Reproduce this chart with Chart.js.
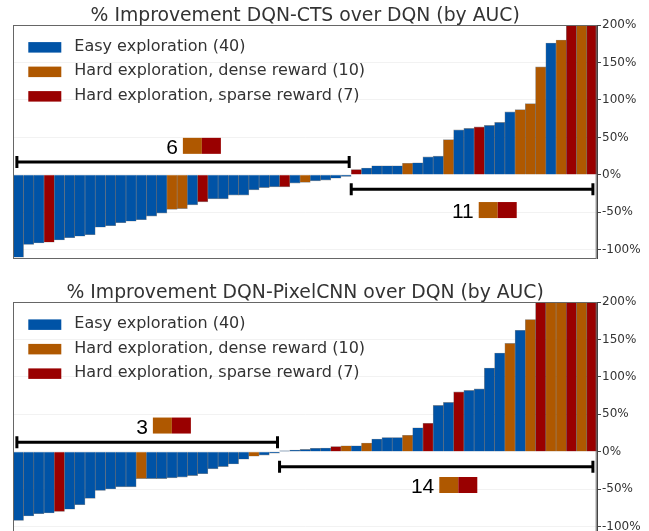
<!DOCTYPE html>
<html>
<head>
<meta charset="utf-8">
<script src="https://cdn.jsdelivr.net/npm/chart.js@4/dist/chart.umd.min.js"></script>
<style>
  html, body { margin: 0; padding: 0; background: #fff; overflow: hidden; }
  #wrap { position: relative; width: 649px; height: 531px; overflow: hidden; }
  #top_chart { position: absolute; left: 0; top: 0; }
  #bottom_chart { position: absolute; left: 0; top: 268px; }
</style>
</head>
<body>
<div id="wrap">
  <canvas id="top_chart" width="649" height="268"></canvas>
  <canvas id="bottom_chart" width="649" height="274"></canvas>
</div>
<script>
// game groups (E = easy, D = hard/dense, S = hard/sparse)
const groupKeys = ['E', 'D', 'S'];
const groupNames = ['Easy exploration', 'Hard exploration, dense reward', 'Hard exploration, sparse reward'];
const groupColors = ['#0053a6', '#af5800', '#990000'];

const tickValues = [-100, -50, 0, 50, 100, 150, 200];

// DQN-CTS, sorted
const ctsTitle = '% Improvement DQN-CTS over DQN (by AUC)';
const ctsValues = [
  -110, -93, -91, -90, -87, -84, -82, -80, -70, -68,
  -64, -62, -60, -55, -51, -46, -45, -40, -36, -32,
  -32, -27, -27, -20, -17, -16, -16, -11, -10, -8,
  -7, -4.5, -2, 7, 9, 12, 12, 12, 15.5, 16,
  24, 25, 47, 60, 62, 64, 66, 70, 84, 87,
  95, 144, 176, 180, 200, 200, 200
];
const ctsGroups = [
  'E', 'E', 'E', 'S', 'E', 'E', 'E', 'E', 'E', 'E',
  'E', 'E', 'E', 'E', 'E', 'D', 'D', 'E', 'S', 'E',
  'E', 'E', 'E', 'E', 'E', 'E', 'S', 'E', 'D', 'E',
  'E', 'E', 'E', 'S', 'E', 'E', 'E', 'E', 'D', 'E',
  'E', 'E', 'D', 'E', 'E', 'S', 'E', 'E', 'E', 'D',
  'D', 'D', 'E', 'D', 'S', 'D', 'S'
];

// DQN-PixelCNN, sorted
const pixelTitle = '% Improvement DQN-PixelCNN over DQN (by AUC)';
const pixelValues = [
  -92, -86, -83, -82, -80, -77, -71, -62.5, -52, -50,
  -47, -47, -36, -36, -36, -35, -34, -32, -29.5, -23,
  -20, -16.5, -10, -6, -4.5, -2, 1, 2, 3, 4.5,
  5, 7, 8, 8, 11.6, 17, 19, 19, 22, 32,
  38, 62, 66, 80, 82, 84, 112, 132, 145, 162.5,
  177, 200, 200, 200, 200, 200, 200
];
const pixelGroups = [
  'E', 'E', 'E', 'E', 'S', 'E', 'E', 'E', 'E', 'E',
  'E', 'E', 'D', 'E', 'E', 'E', 'E', 'E', 'E', 'E',
  'E', 'E', 'E', 'D', 'E', 'E', 'E', 'E', 'E', 'E',
  'E', 'S', 'D', 'E', 'D', 'E', 'E', 'E', 'D', 'E',
  'S', 'E', 'E', 'S', 'E', 'E', 'E', 'E', 'D', 'E',
  'D', 'S', 'D', 'D', 'S', 'D', 'S'
];

var colorOf = function (g) {
  return groupColors[groupKeys.indexOf(g)];
};

// frame, legend, title, brackets
var panelPlugin = {
  id: 'panel',
  afterDatasetsDraw: function (chart) {
    var ctx = chart.ctx;
    var a = chart.chartArea;
    var opt = chart.options.plugins.panel;
    var xs = chart.scales.x;
    var ys = chart.scales.y;
    var groups = opt.groups;
    var values = chart.data.datasets[0].data;
    var step = xs.getPixelForValue(1) - xs.getPixelForValue(0);
    var x0px = xs.getPixelForValue(0);

    ctx.save();
    // frame
    ctx.strokeStyle = '#666';
    ctx.lineWidth = 1;
    ctx.strokeRect(Math.round(a.left) + 0.5, Math.round(a.top) + 0.5, a.right - a.left - 1, a.bottom - a.top);

    // title
    ctx.fillStyle = '#333';
    ctx.font = '18.8px "DejaVu Sans"';
    ctx.textAlign = 'center';
    ctx.textBaseline = 'alphabetic';
    ctx.fillText(opt.title, (a.left + a.right) / 2, a.top - 4.3);

    // legend
    ctx.font = '16px "DejaVu Sans"';
    ctx.textAlign = 'left';
    ctx.textBaseline = 'middle';
    for (let i = 0; i < groupKeys.length; i++) {
      let cy = a.top + 22.3 + i * 24.5;
      let n = groups.filter(g => g === groupKeys[i]).length;
      ctx.fillStyle = groupColors[i];
      ctx.fillRect(a.left + 15, cy - 5.2, 33, 10.5);
      ctx.fillStyle = '#333';
      ctx.fillText(groupNames[i] + ' (' + n + ')', a.left + 61, cy - 0.5);
    }

    // brackets for negative / positive
    let nNeg = values.filter(v => v < 0).length;
    let hardNeg = 0, hardPos = 0;
    for (let i = 0; i < values.length; i++) {
      if (groups[i] === 'E') continue;
      if (values[i] < 0) hardNeg++; else hardPos++;
    }
    var bracket = function (i0, i1, yv) {
      let x0 = x0px + i0 * step;
      let x1 = x0px + i1 * step;
      let y = ys.getPixelForValue(yv);
      ctx.strokeStyle = '#000';
      ctx.lineWidth = 3;
      ctx.beginPath();
      ctx.moveTo(x0, y); ctx.lineTo(x1, y);
      ctx.moveTo(x0, y - 6); ctx.lineTo(x0, y + 6);
      ctx.moveTo(x1, y - 6); ctx.lineTo(x1, y + 6);
      ctx.stroke();
    };
    bracket(-0.15, nNeg - 1 + 0.3, opt.leftBracketY);
    bracket(nNeg - 0.5, values.length - 1 + 0.1, opt.rightBracketY);

    var countLabel = function (pos, count) {
      let x = x0px + pos[0] * step;
      let y = ys.getPixelForValue(pos[1]);
      ctx.fillStyle = groupColors[1];
      ctx.fillRect(x, y - 8, 19, 16);
      ctx.fillStyle = groupColors[2];
      ctx.fillRect(x + 19, y - 8, 19, 16);
      ctx.fillStyle = '#000';
      ctx.font = '21px "Liberation Sans"';
      ctx.textAlign = 'right';
      ctx.textBaseline = 'alphabetic';
      ctx.fillText(String(count), x - 5, y + 8);
    };
    countLabel(opt.leftLabel, hardNeg);
    countLabel(opt.rightLabel, hardPos);
    ctx.restore();
  }
};

printPanel = function (canvasId, title, values, groups, cfg) {
  const ctx = document.getElementById(canvasId).getContext('2d');
  return new Chart(ctx, {
    type: 'bar',
    data: {
      labels: values.map((v, i) => String(i + 1)),
      datasets: [{
        data: values,
        backgroundColor: groups.map(colorOf),
        borderColor: 'rgba(20,20,20,0.45)',
        borderWidth: 0.6,
        barPercentage: 1,
        categoryPercentage: 1
      }]
    },
    options: {
      responsive: false,
      animation: false,
      layout: { padding: { left: 13.3, right: 0, top: cfg.padTop, bottom: cfg.padBottom } },
      scales: {
        x: { display: false },
        y: {
          position: 'right',
          min: cfg.yMin,
          max: 200,
          afterBuildTicks: function (scale) {
            scale.ticks = tickValues.map(v => ({ value: v }));
          },
          afterFit: function (scale) {
            scale.width = 52;
            scale.paddingTop = 0;
            scale.paddingBottom = 0;
          },
          ticks: {
            color: '#333',
            padding: 1,
            font: { family: 'DejaVu Sans', size: 12 },
            callback: v => v + '%'
          },
          grid: { color: 'rgba(0,0,0,0.05)', tickColor: '#444', tickLength: 4 },
          border: { color: '#444', width: 1 }
        }
      },
      plugins: {
        legend: { display: false },
        tooltip: { enabled: false },
        panel: {
          title: title,
          groups: groups,
          leftBracketY: cfg.leftBracketY,
          rightBracketY: cfg.rightBracketY,
          leftLabel: cfg.leftLabel,
          rightLabel: cfg.rightLabel
        }
      }
    },
    plugins: [panelPlugin]
  });
};

printPanel('top_chart', ctsTitle, ctsValues, ctsGroups, {
  yMin: -111, padTop: 25, padBottom: 10,
  leftBracketY: 17, rightBracketY: -19.3,
  leftLabel: [16.06, 38.7], rightLabel: [44.95, -47]
});

printPanel('bottom_chart', pixelTitle, pixelValues, pixelGroups, {
  yMin: -120.9, padTop: 34.3, padBottom: 0,
  leftBracketY: 12.6, rightBracketY: -20,
  leftLabel: [13.13, 35], rightLabel: [41.1, -44.6]
});
</script>
</body>
</html>
